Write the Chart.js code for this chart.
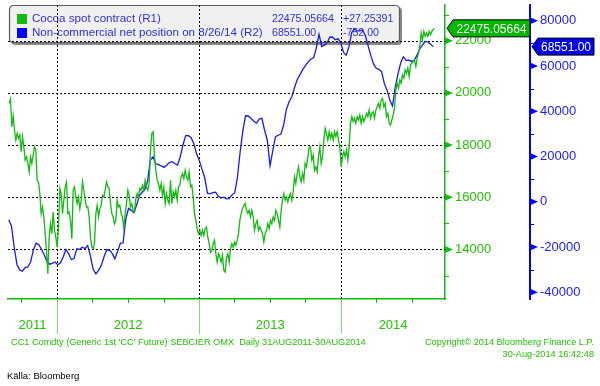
<!DOCTYPE html>
<html>
<head>
<meta charset="utf-8">
<script src="https://cdn.jsdelivr.net/npm/chart.js@4.4.0/dist/chart.umd.min.js"></script>
<style>
html, body { margin: 0; padding: 0; background: #fff; }
</style>
</head>
<body>
<canvas id="cocoaChart" width="600" height="386"></canvas>
<script>
// Cocoa spot contract (R1), evenly spaced readings from 31 Aug 2011 to 29 Aug 2014
const cocoaPrices = [
  19604, 19770, 18704, 19115, 18577, 18192, 18450, 18258, 18385, 17742,
  18320, 17935, 17423, 17550, 17296, 16973, 17550, 17296, 17615, 17935,
  17808, 16654, 16588, 16142, 15373, 15627, 15243, 14604, 13962, 13065,
  14473, 14988, 14604, 15435, 14731, 14473, 14088, 14858, 16335, 16142,
  15373, 15885, 16398, 16588, 15373, 15435, 15115, 14411, 16269, 16398,
  16012, 15757, 16012, 15565, 15885, 16588, 16269, 15885, 15627, 15627,
  15243, 14473, 14088, 14027, 14219, 15373, 15693, 15243, 15565, 15693,
  16077, 16012, 16269, 16588, 16398, 16335, 15757, 15373, 15243, 14988,
  15115, 15885, 15627,
  15693, 15373, 15243, 14796, 15373, 15757, 16269, 16077, 15627, 15757,
  15435, 15500, 15950, 16142, 16012, 16335, 16269, 16462, 16269, 16654,
  16398, 16269, 16527, 17808, 18450, 18513,
  17550, 17039, 16654, 16527, 16269, 16527, 16077, 16398, 15757, 16142,
  15885, 15757, 16654, 15757, 16206, 16012, 16269, 15885, 16398, 16462,
  16781, 16910, 16717, 17039, 16781, 16654, 16973, 16398, 16462, 16012,
  15373, 15115, 14796, 14604, 14731, 14539, 14731, 14539, 14796, 14858,
  14473, 14219, 13897, 13962, 14219, 14346, 13834, 13512, 13834, 13705,
  13512, 13770, 13193, 13128, 13705, 13834, 13512,
  14027, 14219, 14088, 14281, 14154, 14346, 14604, 15115, 15373, 15565,
  15693, 15757, 15500, 15373, 15500, 15243, 15500, 15243, 14731, 14988,
  15115, 14731, 14858, 14731, 14604, 14281, 14604, 14731, 14988, 14796,
  15115, 14988, 15243, 15115, 15500, 15373, 15115, 14858, 15500, 15885,
  16142, 15885, 16012, 15821, 16012, 16142, 15885, 16206, 16781, 16527,
  16910, 17167, 16781, 16588, 16910, 16654, 17296, 17167, 17550, 17935,
  17935, 17423, 17615, 17039, 17167, 16973, 17550, 17935, 17296, 17550,
  18192, 18642, 18450, 18192, 18513, 18258, 18450, 18192, 18513, 18320,
  18513, 18192,
  17935, 17167, 17550, 17742, 17550, 17808, 17423, 17935, 18834, 19089,
  18897, 19027, 18834, 19089, 18962, 19154, 18834, 19089, 18897, 19027,
  19219, 19089, 19346, 19027, 19219, 19282, 19027, 19346, 19473, 19604,
  19411, 19731, 19796, 19473, 19604, 19089, 19219, 18834, 18770, 18962,
  19154, 19411, 20115, 20373, 20181, 20500, 20373, 20692, 20565, 20885,
  20758, 20950, 20627, 21077, 21142, 21204, 21269, 21012, 21334, 21527,
  21781, 22296, 22038, 22358, 22165, 22296, 22165, 22358, 22230, 22358,
  22423, 22475.05664
];

// Non-commercial net position (R2), weekly from 30 Aug 2011 to 26 Aug 2014
const netPosition = [
  -7900, -10800, -20100, -27700, -30100, -30700, -29100, -28800, -26700, -21500,
  -18300, -18900, -21000, -23400, -26200, -27600, -27200, -26600, -27800, -27000,
  -24400, -21100, -23000, -25600, -25000, -20800, -21000, -20100, -20700, -19400,
  -24000, -29800, -31800, -30300, -28100, -24300, -21200, -21400, -22800, -25200,
  -21900, -18300, -18200, -7600, -2900, -3800, -4800, -1300, 2700, 4200,
  5400, 9000, 18400, 19900, 16800, 16400, 15900, 15200, 16100, 17300,
  17700, 16900, 16200, 19800, 25100, 29200, 29200, 28300, 25700, 21200,
  18300, 14400, 10600, 3800, 3500, 4000, 4250, 2400, 1600, 2000,
  1300, 1400, 3000, 3900, 10600, 21900, 31300, 38000, 37900, 36900,
  35600, 34800, 36500, 36900, 31600, 27200, 15900, 22500, 28800, 29400,
  29900, 33900, 40800, 44200, 46400, 50500, 54000, 56200, 58400, 60200,
  61800, 63100, 63600, 68000, 74000, 68600, 69200, 70400, 72800, 72700,
  71600, 72000, 70200, 66000, 64800, 68500, 74700, 76500, 75500, 75500,
  75900, 73500, 69100, 64700, 61000, 59000, 58500, 57500, 52200, 49300,
  45000, 42300, 50600, 56400, 61300, 64100, 62500, 62600, 62000, 62500,
  64800, 67600, 69200, 70900, 70600, 69600, 68551
];

const yearLabels = ['2011', '2012', '2013', '2014'];
const cocoaTicks = [14000, 16000, 18000, 20000, 22000];
const netTicks = [-40000, -20000, 0, 20000, 40000, 60000, 80000];
const legendNames = ['Cocoa spot contract (R1)', 'Non-commercial net position on 8/26/14 (R2)'];
const legendValues = ['22475.05664', '68551.00'];
const legendChanges = ['+27.25391', '-752.00'];
const tagLabels = ['22475.05664', '68551.00'];

const GREEN = '#11bb11';
const GREEN_TEXT = '#22c400';
const BLUE = '#1a1aee';
const FONT = '"Liberation Sans", Arial, sans-serif';
const DAY = 86400000;

const cocoaStart = Date.UTC(2011, 7, 31);
const cocoaEnd = Date.UTC(2014, 7, 29);
const netStart = Date.UTC(2011, 7, 30);
const cocoaData = cocoaPrices.map((v, i) => ({
  x: cocoaStart + i * (cocoaEnd - cocoaStart) / (cocoaPrices.length - 1), y: v
}));
const netData = netPosition.map((v, i) => ({ x: netStart + i * 7 * DAY, y: v }));

function dotted(ctx, x1, y1, x2, y2) {
  ctx.save();
  ctx.strokeStyle = '#000';
  ctx.lineWidth = 1;
  ctx.setLineDash([2, 2]);
  ctx.beginPath();
  ctx.moveTo(x1, y1);
  ctx.lineTo(x2, y2);
  ctx.stroke();
  ctx.restore();
}

function tag(ctx, tipX, y, right, text, fill) {
  const h = 17;
  ctx.save();
  ctx.beginPath();
  ctx.moveTo(tipX, y);
  ctx.lineTo(tipX + 6, y - h / 2);
  ctx.lineTo(right, y - h / 2);
  ctx.lineTo(right, y + h / 2);
  ctx.lineTo(tipX + 6, y + h / 2);
  ctx.closePath();
  ctx.fillStyle = fill;
  ctx.fill();
  ctx.strokeStyle = '#000';
  ctx.lineWidth = 1;
  ctx.stroke();
  ctx.fillStyle = '#fff';
  ctx.font = '12px ' + FONT;
  ctx.textBaseline = 'middle';
  ctx.textAlign = 'center';
  ctx.fillText(text, (tipX + 6 + right) / 2, y + 1);
  ctx.restore();
}

const bloombergLook = {
  id: 'bloombergLook',
  beforeDraw(chart) {
    // legend box sits under grid and lines
    const ctx = chart.ctx;
    ctx.save();
    ctx.fillStyle = '#fff';
    ctx.fillRect(0, 0, chart.width, chart.height);
    ctx.fillStyle = '#8a8a8a';
    ctx.beginPath();
    ctx.roundRect(11, 7, 391, 38, 4);
    ctx.fill();
    ctx.fillStyle = '#f0f0f0';
    ctx.strokeStyle = '#5a5a5a';
    ctx.lineWidth = 1.2;
    ctx.beginPath();
    ctx.roundRect(9.5, 5.5, 390, 37, 4);
    ctx.fill();
    ctx.stroke();
    const colors = [GREEN, '#0000ff'];
    ctx.textBaseline = 'middle';
    for (let i = 0; i < 2; i++) {
      const y = 19 + i * 14;
      ctx.fillStyle = colors[i];
      ctx.fillRect(17, y - 5, 10, 10);
      ctx.fillStyle = '#3030e0';
      ctx.font = '11.6px ' + FONT;
      ctx.fillText(legendNames[i], 32, y);
      ctx.font = '10.6px ' + FONT;
      ctx.fillText(legendValues[i], 272, y);
      ctx.fillText(legendChanges[i], 343, y);
    }
    ctx.restore();
  },
  beforeDatasetsDraw(chart) {
    const ctx = chart.ctx;
    const ca = chart.chartArea;
    const xs = chart.scales.x;
    const ys = chart.scales.y;
    cocoaTicks.forEach(v => {
      const py = Math.round(ys.getPixelForValue(v)) + 0.5;
      dotted(ctx, ca.left, py, ca.right, py);
    });
    [2012, 2013, 2014].forEach(yr => {
      const px = Math.round(xs.getPixelForValue(Date.UTC(yr, 0, 1))) + 0.5;
      dotted(ctx, px, ca.top, px, ca.bottom);
    });
  },
  afterDraw(chart) {
    const ctx = chart.ctx;
    const ca = chart.chartArea;
    const xs = chart.scales.x;
    const ys = chart.scales.y;
    const y2 = chart.scales.y2;
    ctx.save();

    // R1 axis marks
    ctx.fillStyle = GREEN;
    ctx.strokeStyle = GREEN;
    ctx.lineWidth = 1;
    cocoaTicks.forEach(v => {
      const py = ys.getPixelForValue(v);
      ctx.beginPath();
      ctx.moveTo(ca.right, py - 3.5);
      ctx.lineTo(ca.right + 8, py);
      ctx.lineTo(ca.right, py + 3.5);
      ctx.closePath();
      ctx.fill();
    });
    for (let v = 13000; v <= 23000; v += 2000) {
      const py = Math.round(ys.getPixelForValue(v)) + 0.5;
      ctx.beginPath();
      ctx.moveTo(ca.right, py);
      ctx.lineTo(ca.right + 4, py);
      ctx.stroke();
    }

    // R2 axis marks
    const bx = y2.left;
    ctx.fillStyle = '#0000ff';
    ctx.strokeStyle = '#0000ff';
    netTicks.forEach(v => {
      const py = y2.getPixelForValue(v);
      ctx.beginPath();
      ctx.moveTo(bx, py - 3.5);
      ctx.lineTo(bx + 8, py);
      ctx.lineTo(bx, py + 3.5);
      ctx.closePath();
      ctx.fill();
    });
    for (let v = -30000; v <= 70000; v += 20000) {
      const py = Math.round(y2.getPixelForValue(v)) + 0.5;
      ctx.beginPath();
      ctx.moveTo(bx, py);
      ctx.lineTo(bx + 4, py);
      ctx.stroke();
    }

    // time axis: quarter ticks, year separators, year labels
    for (let yr = 2011; yr <= 2014; yr++) {
      for (let m = 0; m < 12; m += 3) {
        const t = Date.UTC(yr, m, 1);
        if (t < xs.min || t > xs.max) continue;
        const px = Math.round(xs.getPixelForValue(t)) + 0.5;
        ctx.beginPath();
        if (m === 0) {
          ctx.strokeStyle = '#7ddc7d';
          ctx.moveTo(px, ca.bottom);
          ctx.lineTo(px, 334);
        } else {
          ctx.strokeStyle = GREEN;
          ctx.moveTo(px, ca.bottom);
          ctx.lineTo(px, ca.bottom + 4);
        }
        ctx.stroke();
      }
    }
    const edges = [ca.left,
      xs.getPixelForValue(Date.UTC(2012, 0, 1)),
      xs.getPixelForValue(Date.UTC(2013, 0, 1)),
      xs.getPixelForValue(Date.UTC(2014, 0, 1)),
      ca.right];
    ctx.fillStyle = GREEN_TEXT;
    ctx.font = '13px ' + FONT;
    ctx.textAlign = 'center';
    ctx.textBaseline = 'middle';
    yearLabels.forEach((lab, i) => {
      ctx.fillText(lab, (edges[i] + edges[i + 1]) / 2, 325);
    });

    // last-value tags
    tag(ctx, ca.right + 2, ys.getPixelForValue(cocoaPrices[cocoaPrices.length - 1]), 530, tagLabels[0], '#00b800');
    tag(ctx, bx + 2, y2.getPixelForValue(netPosition[netPosition.length - 1]), 594, tagLabels[1], '#0000ee');

    // footer
    ctx.font = '9.2px ' + FONT;
    ctx.fillStyle = GREEN_TEXT;
    ctx.textAlign = 'left';
    ctx.fillText("CC1 Comdty (Generic 1st 'CC' Future) SEBCIER OMX  Daily 31AUG2011-30AUG2014", 11, 342);
    ctx.textAlign = 'right';
    ctx.fillText('Copyright\u00a9 2014 Bloomberg Finance L.P.', 594, 342);
    ctx.fillText('30-Aug-2014 16:42:48', 594, 354);
    ctx.fillStyle = '#000';
    ctx.textAlign = 'left';
    ctx.font = '9.5px ' + FONT;
    ctx.fillText('K\u00e4lla: Bloomberg', 7, 376);
    ctx.restore();
  }
};

const ctx = document.getElementById('cocoaChart').getContext('2d');
const cocoaChart = new Chart(ctx, {
  type: 'line',
  data: {
    datasets: [
      {
        label: legendNames[0],
        data: cocoaData,
        yAxisID: 'y',
        borderColor: GREEN,
        borderWidth: 1.3,
        pointRadius: 0,
        tension: 0,
        fill: false
      },
      {
        label: legendNames[1],
        data: netData,
        yAxisID: 'y2',
        borderColor: BLUE,
        borderWidth: 1.3,
        pointRadius: 0,
        tension: 0,
        fill: false
      }
    ]
  },
  options: {
    responsive: false,
    animation: false,
    layout: { padding: { left: 8, top: 5, right: 0, bottom: 0 } },
    plugins: { legend: { display: false }, tooltip: { enabled: false } },
    scales: {
      x: {
        type: 'linear',
        min: Date.UTC(2011, 7, 28),
        max: Date.UTC(2014, 8, 25),
        ticks: { display: false },
        grid: { display: false, drawTicks: false },
        border: { display: true, color: GREEN, width: 1.5 },
        afterFit: s => { s.height = 87; s.paddingLeft = 0; s.paddingRight = 0; }
      },
      y: {
        position: 'right',
        weight: 0,
        min: 12100,
        max: 23370,
        afterBuildTicks: s => { s.ticks = cocoaTicks.map(v => ({ value: v })); },
        ticks: {
          padding: 10, color: GREEN_TEXT, font: { family: FONT, size: 13 },
          callback: v => String(v)
        },
        grid: { display: false, drawTicks: false, tickLength: 0 },
        border: { display: true, color: GREEN, width: 1.5 },
        afterFit: s => { s.width = 85; s.paddingTop = 0; s.paddingBottom = 0; }
      },
      y2: {
        position: 'right',
        weight: 1,
        min: -42960,
        max: 86940,
        afterBuildTicks: s => { s.ticks = netTicks.map(v => ({ value: v })); },
        ticks: {
          padding: 10, color: '#2020ff', font: { family: FONT, size: 13 },
          callback: v => String(v)
        },
        grid: { display: false, drawTicks: false, tickLength: 0 },
        border: { display: true, color: '#0000ff', width: 2 },
        afterFit: s => { s.width = 70; s.paddingTop = 0; s.paddingBottom = 0; }
      }
    }
  },
  plugins: [bloombergLook]
});
</script>
</body>
</html>
